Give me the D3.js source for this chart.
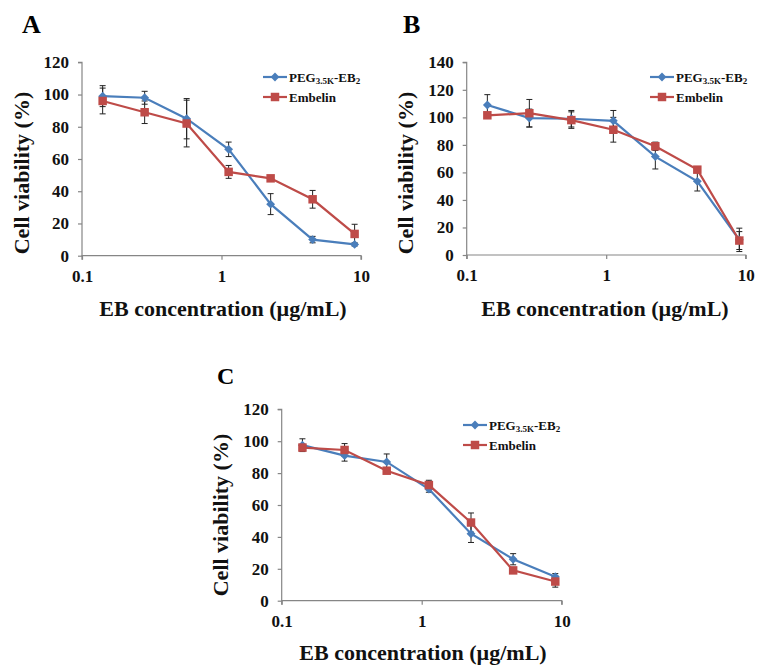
<!DOCTYPE html>
<html><head><meta charset="utf-8">
<script src="https://cdn.jsdelivr.net/npm/d3@7"></script>
<style>body{margin:0;background:#fff}svg{display:block}</style>
</head><body>
<svg id="c" width="757" height="667"></svg>
<script>
const conc = [0.140625, 0.28125, 0.5625, 1.125, 2.25, 4.5, 9];
const xTicks = [0.1, 1, 10];
const xTickLabels = ["0.1", "1", "10"];
const seriesNames = ["PEG3.5K-EB2", "Embelin"];

const A_peg = [99, 98, 85, 66, 32, 10, 7];
const A_pegErr = [6.5, 4, 12.5, 4.5, 6.5, 2, 1];
const A_emb = [96, 89, 82, 52, 48, 35, 13.5];
const A_embErr = [8, 7, 14.5, 4, 1, 5.5, 6];

const B_peg = [109, 99.5, 99, 97.5, 71.5, 53.5, 11];
const B_pegErr = [7.5, 6.5, 6, 7.5, 9, 7, 8.5];
const B_emb = [101.5, 103, 98, 91, 79, 62, 10.5];
const B_embErr = [2, 10, 6, 9, 3, 2, 6.5];

const C_peg = [97.5, 91, 87, 70, 42, 26, 15];
const C_pegErr = [4, 3.5, 5, 2, 5.5, 3.5, 2];
const C_emb = [96, 94.5, 81.5, 72.5, 49, 19, 12];
const C_embErr = [2, 4, 1.5, 3, 6, 1.5, 3.5];

const A_yTicks = [0, 20, 40, 60, 80, 100, 120];
const B_yTicks = [0, 20, 40, 60, 80, 100, 120, 140];
const C_yTicks = [0, 20, 40, 60, 80, 100, 120];

const BLUE = "#4a7ebb", RED = "#be4b48", AXIS = "#868686";
const FONT = "'Liberation Serif','Times New Roman',serif";
const svg = d3.select("#c");

const panels = [
  {label:"A", lx:22, ly:33, lsize:26, x0:82, x1:361, y0:255.7, y1:62.3, ymax:120, yTicks:A_yTicks,
   peg:A_peg, pegErr:A_pegErr, emb:A_emb, embErr:A_embErr,
   ytx:29, yty:173, xtx:223, xty:316, legX:263, legY:77},
  {label:"B", lx:403, ly:33, lsize:26, x0:466.7, x1:745.7, y0:255, y1:62.3, ymax:140, yTicks:B_yTicks,
   peg:B_peg, pegErr:B_pegErr, emb:B_emb, embErr:B_embErr,
   ytx:413, yty:173, xtx:605, xty:316, legX:650, legY:77},
  {label:"C", lx:217, ly:384, lsize:24, x0:281.7, x1:561.7, y0:600.7, y1:409.3, ymax:120, yTicks:C_yTicks,
   peg:C_peg, pegErr:C_pegErr, emb:C_emb, embErr:C_embErr,
   ytx:228, yty:515, xtx:423, xty:660, legX:463, legY:425}
];

panels.forEach(p => {
  const g = svg.append("g");
  const x = d3.scaleLog().domain([0.1, 10]).range([p.x0, p.x1]);
  const y = d3.scaleLinear().domain([0, p.ymax]).range([p.y0, p.y1]);

  // panel label
  g.append("text").attr("x", p.lx).attr("y", p.ly).text(p.label)
    .attr("font-family", FONT).attr("font-weight", "bold").attr("font-size", p.lsize);

  // axes
  const yAxis = d3.axisLeft(y).tickValues(p.yTicks).tickFormat(d3.format("d")).tickSize(4).tickPadding(9);
  const ga = g.append("g").attr("transform", `translate(${p.x0},0)`).call(yAxis);
  const xAxis = d3.axisBottom(x).tickValues(xTicks).tickFormat((d,i) => xTickLabels[i]).tickSize(4).tickPadding(10);
  const gb = g.append("g").attr("transform", `translate(0,${p.y0})`).call(xAxis);
  [ga, gb].forEach(a => {
    a.select(".domain").attr("stroke", AXIS).attr("stroke-width", 1.2);
    a.selectAll(".tick line").attr("stroke", AXIS).attr("stroke-width", 1.2);
    a.selectAll("text").attr("font-family", FONT).attr("font-weight", "bold").attr("font-size", 17).attr("fill", "#111");
  });
  ga.select(".domain").attr("d", `M-4,${p.y1}H0V${p.y0}`);
  gb.select(".domain").attr("d", `M${p.x0},4V0H${p.x1}V4`);

  // axis titles
  g.append("text").attr("transform", `translate(${p.ytx},${p.yty}) rotate(-90)`)
    .attr("text-anchor", "middle").text("Cell viability (%)")
    .attr("font-family", FONT).attr("font-weight", "bold").attr("font-size", 22).attr("fill", "#111");
  g.append("text").attr("x", p.xtx).attr("y", p.xty).attr("text-anchor", "middle")
    .text("EB concentration (µg/mL)")
    .attr("font-family", FONT).attr("font-weight", "bold").attr("font-size", 22).attr("fill", "#111");

  const series = [
    {vals:p.peg, err:p.pegErr, color:BLUE, shape:"diamond"},
    {vals:p.emb, err:p.embErr, color:RED, shape:"square"}
  ];
  const line = d3.line().x((d,i) => x(conc[i])).y(d => y(d));

  series.forEach(s => {
    const eg = g.append("g").attr("stroke", "#222").attr("stroke-width", 1);
    s.vals.forEach((v,i) => {
      const cx = x(conc[i]), top = y(v + s.err[i]), bot = y(v - s.err[i]);
      eg.append("line").attr("x1", cx).attr("x2", cx).attr("y1", top).attr("y2", bot);
      eg.append("line").attr("x1", cx-3).attr("x2", cx+3).attr("y1", top).attr("y2", top);
      eg.append("line").attr("x1", cx-3).attr("x2", cx+3).attr("y1", bot).attr("y2", bot);
    });
  });
  series.forEach(s => {
    g.append("path").datum(s.vals).attr("d", line).attr("fill", "none")
      .attr("stroke", s.color).attr("stroke-width", 2.2);
    const sym = s.shape === "diamond" ? d3.symbol().type(d3.symbolDiamond2).size(50)
                                       : d3.symbol().type(d3.symbolSquare).size(72);
    g.selectAll(null).data(s.vals).enter().append("path")
      .attr("d", sym).attr("transform", (d,i) => `translate(${x(conc[i])},${y(d)})`)
      .attr("fill", s.color);
  });

  // legend
  series.forEach((s, k) => {
    const ly = p.legY + k*20;
    g.append("line").attr("x1", p.legX).attr("x2", p.legX+24).attr("y1", ly).attr("y2", ly)
      .attr("stroke", s.color).attr("stroke-width", 2.2);
    const sym = s.shape === "diamond" ? d3.symbol().type(d3.symbolDiamond2).size(50)
                                       : d3.symbol().type(d3.symbolSquare).size(72);
    g.append("path").attr("d", sym).attr("transform", `translate(${p.legX+12},${ly})`).attr("fill", s.color);
    const t = g.append("text").attr("x", p.legX+26).attr("y", ly+4.5)
      .attr("font-family", FONT).attr("font-weight", "bold").attr("font-size", 13).attr("fill", "#111");
    if (k === 0) {
      t.append("tspan").text("PEG");
      t.append("tspan").text("3.5K").attr("font-size", 9).attr("dy", 2);
      t.append("tspan").text("-EB").attr("dy", -2);
      t.append("tspan").text("2").attr("font-size", 9).attr("dy", 2);
    } else {
      t.text(seriesNames[1]);
    }
  });
});
</script>
</body></html>
